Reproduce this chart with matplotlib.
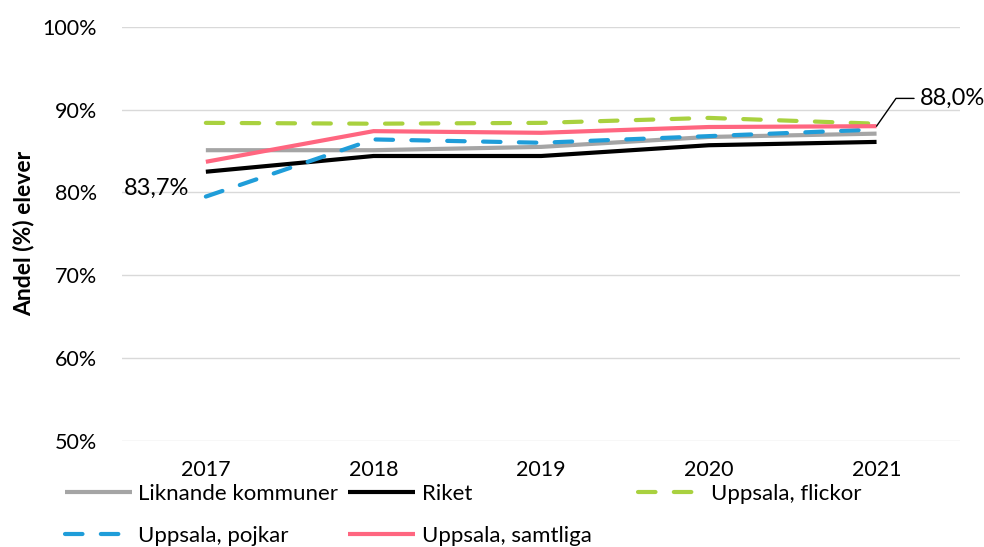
import matplotlib.pyplot as plt
from matplotlib.lines import Line2D

plt.rcParams['font.family'] = ['Lato', 'DejaVu Sans']

years = ["2017", "2018", "2019", "2020", "2021"]

liknande = [85.1, 85.1, 85.5, 86.7, 87.1]
riket = [82.5, 84.4, 84.4, 85.7, 86.1]
flickor = [88.4, 88.3, 88.4, 89.0, 88.3]
pojkar = [79.5, 86.4, 86.0, 86.8, 87.6]
samtliga = [83.7, 87.4, 87.2, 87.9, 88.0]

yticks = [50, 60, 70, 80, 90, 100]

series = [
    ("Liknande kommuner", liknande, "#A5A5A5", None),
    ("Riket", riket, "#000000", None),
    ("Uppsala, flickor", flickor, "#A9D13F", (4.2, 4.4)),
    ("Uppsala, pojkar", pojkar, "#1F9DD9", (4.2, 4.4)),
    ("Uppsala, samtliga", samtliga, "#FF6680", None),
]

fig = plt.figure(figsize=(9.84, 5.47), dpi=100)
ax = fig.add_axes([0.124, 0.194, 0.852, 0.757])

x = list(range(len(years)))
handles = {}
for name, vals, color, dash in series:
    if dash:
        ln, = ax.plot(x, vals, color=color, lw=3, dashes=dash,
                      dash_capstyle="round", label=name)
    else:
        ln, = ax.plot(x, vals, color=color, lw=3, solid_capstyle="butt",
                      label=name)
    handles[name] = ln

ax.set_xlim(-0.5, len(years) - 0.5)
ax.set_ylim(50, 100)
ax.set_yticks(yticks)
ax.set_yticklabels([f"{v}%" for v in yticks], fontsize=15.5)
ax.set_xticks(x)
ax.set_xticklabels(years, fontsize=15.5)
ax.tick_params(axis="both", length=0)
ax.tick_params(axis="x", pad=14)
ax.tick_params(axis="y", pad=18)
ax.grid(axis="y", color="#D9D9D9", lw=1)
ax.set_axisbelow(True)
for s in ax.spines.values():
    s.set_visible(False)

ax.set_ylabel("Andel (%) elever", fontsize=16.5, fontweight="bold", labelpad=6)

# data labels
ax.annotate("83,7%", xy=(x[0], samtliga[0]), xytext=(-12, -19),
            textcoords="offset points", ha="right", va="center", fontsize=17)
ax.annotate("88,0%", xy=(x[-1], samtliga[-1]), xytext=(31, 20),
            textcoords="offset points", ha="left", va="center", fontsize=17,
            arrowprops=dict(arrowstyle="-", color="black", lw=1,
                            connectionstyle="angle,angleA=0,angleB=55,rad=0",
                            shrinkA=2, shrinkB=0))

# legend, in three fixed columns like the original
cols = [
    (["Liknande kommuner", "Uppsala, pojkar"], 0.066),
    (["Riket", "Uppsala, samtliga"], 0.354),
    (["Uppsala, flickor"], 0.648),
]
for names, xpos in cols:
    leg = fig.legend([handles[n] for n in names], names, loc="upper left",
                     bbox_to_anchor=(xpos, 0.116), frameon=False, fontsize=16,
                     handlelength=3.0, handletextpad=0.3, labelspacing=1.0,
                     borderaxespad=0, borderpad=0)

fig.savefig("out.png", dpi=100)
